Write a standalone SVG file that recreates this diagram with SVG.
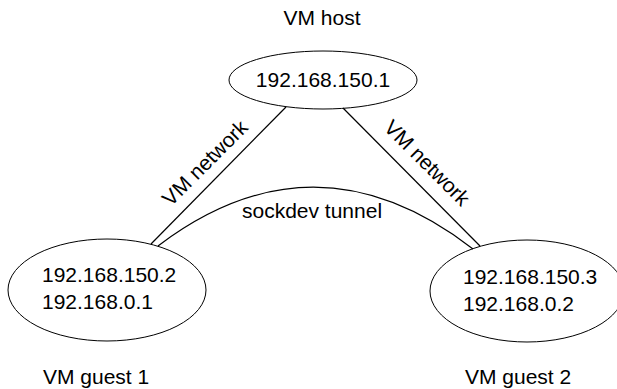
<svg xmlns="http://www.w3.org/2000/svg" width="617" height="389" viewBox="0 0 617 389">
  <style>
    text { font-family: "Liberation Sans", "DejaVu Sans", sans-serif; font-size: 21px; fill: #000; }
    .node ellipse { fill: none; stroke: #000; stroke-width: 1; }
    .edge { fill: none; stroke: #000; stroke-width: 1.2; }
  </style>
  <rect width="617" height="389" fill="#fff"/>

  <!-- links between the machines -->
  <g id="connectors">
    <line class="edge" x1="286" y1="107" x2="151" y2="244"/>
    <line class="edge" x1="343" y1="108" x2="480" y2="246"/>
    <path class="edge" d="M158,246 Q315,127 473,249"/>
    <text transform="translate(210,168) rotate(-45)" text-anchor="middle">VM network</text>
    <text transform="translate(422,168) rotate(45)" text-anchor="middle">VM network</text>
    <text x="312" y="218" text-anchor="middle">sockdev tunnel</text>
  </g>

  <g id="host" class="node">
    <text x="322" y="25" text-anchor="middle">VM host</text>
    <ellipse cx="323" cy="80" rx="94" ry="29"/>
    <text x="323" y="87" text-anchor="middle">192.168.150.1</text>
  </g>

  <g id="guest1" class="node">
    <ellipse cx="107" cy="290" rx="99" ry="51"/>
    <text x="42" y="282">192.168.150.2</text>
    <text x="42" y="309">192.168.0.1</text>
    <text x="43" y="384">VM guest 1</text>
  </g>

  <g id="guest2" class="node">
    <ellipse cx="527" cy="291" rx="97" ry="51"/>
    <text x="463" y="284">192.168.150.3</text>
    <text x="463" y="311">192.168.0.2</text>
    <text x="465" y="384">VM guest 2</text>
  </g>
</svg>
